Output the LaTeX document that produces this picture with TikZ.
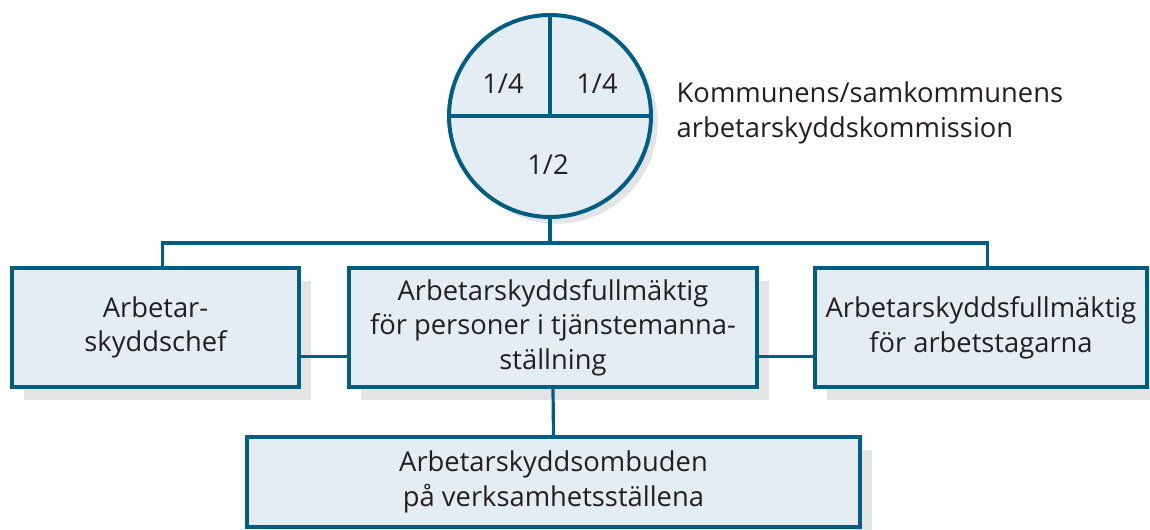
\documentclass[tikz,border=0pt]{standalone}
\usepackage{fontspec}
\setmainfont{Open Sans}
\usetikzlibrary{shadows}
\definecolor{komblue}{RGB}{0,94,133}
\definecolor{komfill}{RGB}{228,237,243}
\definecolor{komshadow}{RGB}{227,228,229}
\definecolor{komtext}{RGB}{35,31,32}
\tikzset{%
  orgbox/.style   = {shape=rectangle, draw=komblue, fill=komfill,%
                     line width=3pt, align=center, inner sep=0pt,%
                     minimum height=89pt,%
                     drop shadow={shadow xshift=9pt, shadow yshift=-10pt,%
                                  fill=komshadow, opacity=1}},%
  kommission/.style = {shape=circle, draw=komblue, fill=komfill,%
                     line width=3pt, inner sep=0pt, minimum size=151.5pt,%
                     drop shadow={shadow xshift=5pt, shadow yshift=-5pt,%
                                  fill=komshadow, opacity=1}},%
  link/.style     = {draw=komblue, line width=2.4pt}%
}
\begin{document}
\begin{tikzpicture}[x=0.75pt,y=-0.75pt,
	every node/.style = {font=\fontsize{20.5}{26}\selectfont, text=komtext}]%
	\useasboundingbox (0,0) rectangle (1150,530);
	% kommissionen
	\node [kommission] (kom) at (550,116) {};
	\draw [link] (kom.west) -- (kom.east);
	\draw [link] (kom.north) -- (kom.center);
	\node (kvartA) at (503,84) {1/4};
	\node (kvartB) at (597,84) {1/4};
	\node (halv) at (548,165) {1/2};
	\node [anchor=west, align=left] (komtxt) at (672,113)
		{Kommunens/samkommunens\\arbetarskyddskommission};
	% boxes
	\node [orgbox, minimum width=215pt] (chef) at (155.5,327.5) {Arbetar-\\skyddschef};
	\node [orgbox, minimum width=306pt] (tj) at (553,327.5)
		{Arbetarskyddsfullmäktig\\för personer i tjänstemanna-\\ställning};
	\node [orgbox, minimum width=249pt] (arb) at (981,327.5)
		{Arbetarskyddsfullmäktig\\för arbetstagarna};
	\node [orgbox, minimum width=460pt, minimum height=67.5pt] (ombud) at (553.5,482)
		{Arbetarskyddsombuden\\på verksamhetsställena};
	% connectors
	\coordinate (bus) at (550,243);
	\draw [link] (kom.south) -- (bus);
	\draw [link] ([xshift=5pt]chef.north) |- (bus) -| ([xshift=5pt]arb.north);
	\draw [link] ([yshift=-22pt]chef.east) -- ([yshift=-22pt]tj.west);
	\draw [link] ([yshift=-22pt]tj.east) -- ([yshift=-22pt]arb.west);
	\draw [link] (tj.south) -- (ombud.north);
\end{tikzpicture}
\end{document}
